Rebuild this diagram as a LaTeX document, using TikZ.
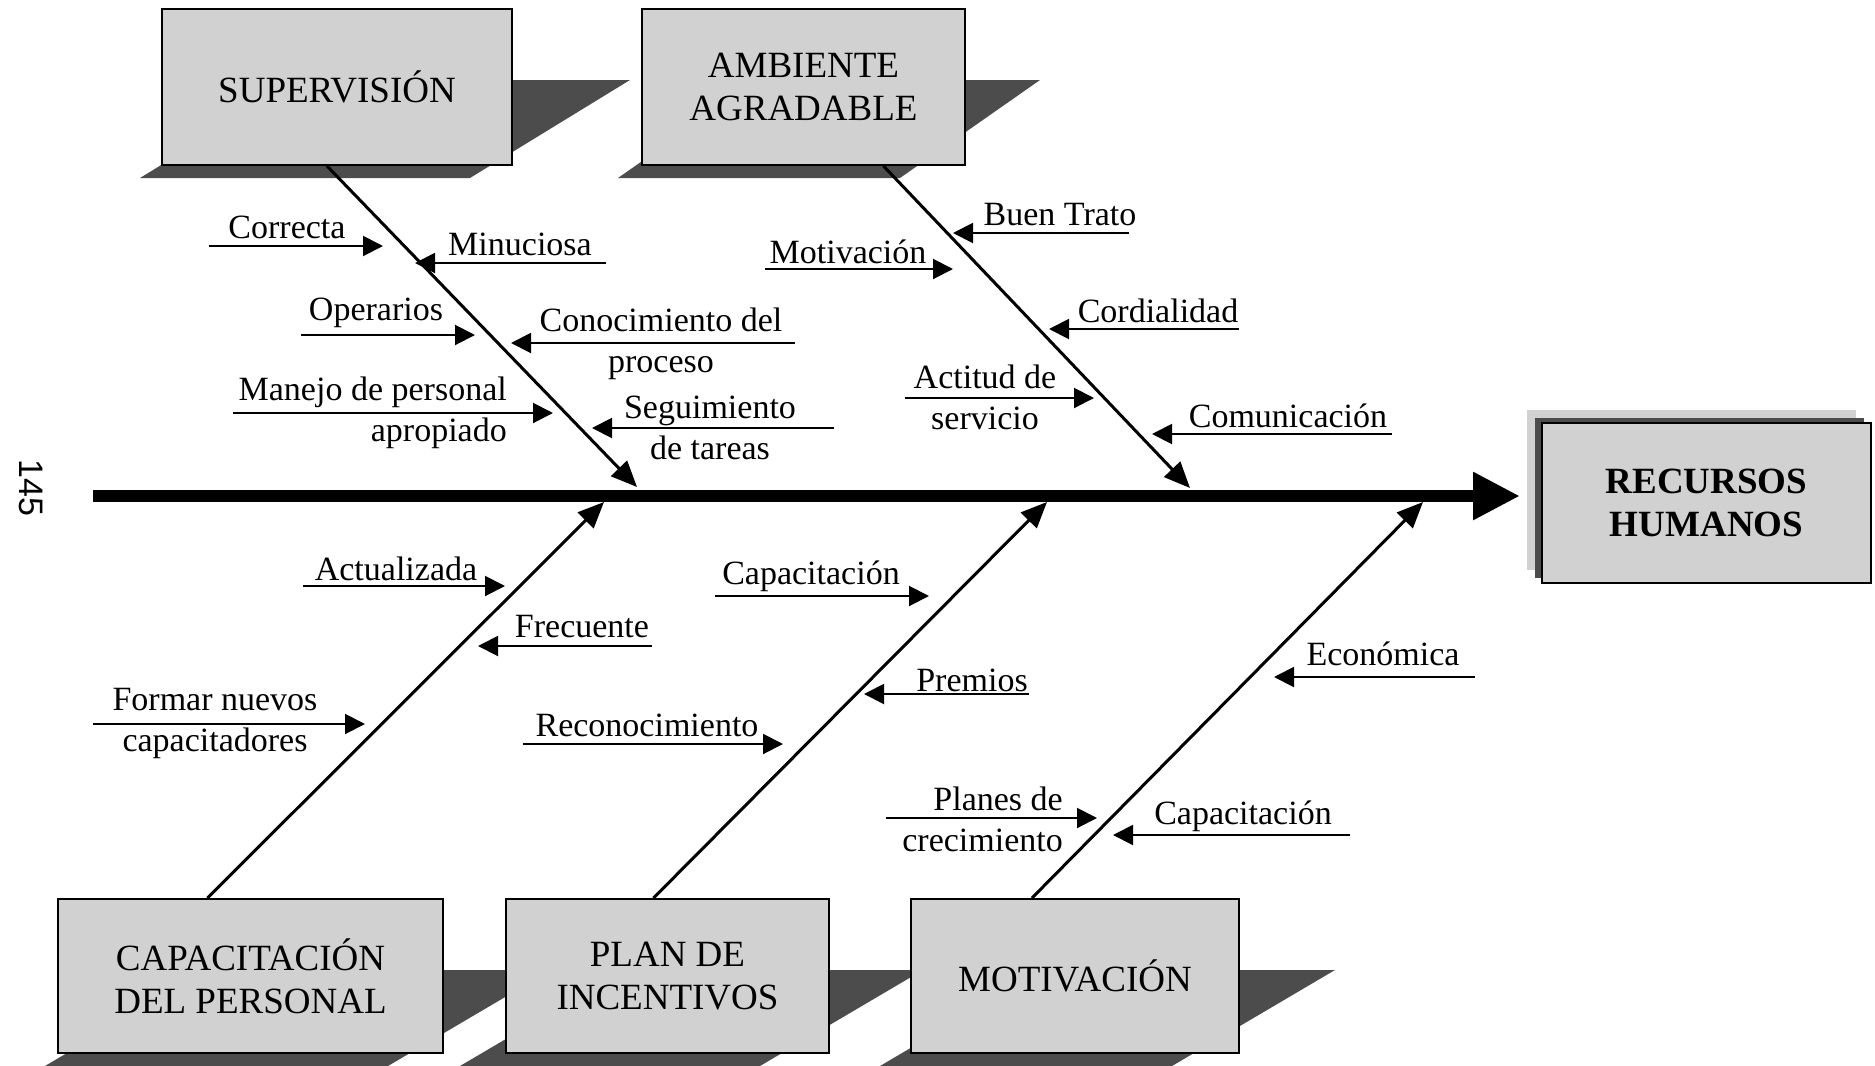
\documentclass[tikz,border=0pt]{standalone}
\usepackage{fontspec}
\setmainfont{Liberation Serif}
\newfontfamily\pagefont{Liberation Sans}
\usetikzlibrary{arrows.meta}

\definecolor{boxgray}{gray}{0.82}
\definecolor{shadegray}{gray}{0.30}

\tikzset{
  causebox/.style={draw=black, line width=2pt, fill=boxgray, minimum width=#1,
    minimum height=156pt, inner sep=0pt, align=center, font=\fontsize{37}{43}\selectfont},
  effectbox/.style={draw=black, line width=2.5pt, fill=boxgray, minimum width=329pt,
    minimum height=160pt, inner sep=0pt, align=center, font=\bfseries\fontsize{37}{43}\selectfont},
  shade/.style={fill=shadegray},
  spine/.style={line width=12pt, -{Triangle[length=47pt,width=45pt]}},
  bone/.style={line width=3pt, -{Triangle[length=26pt,width=22pt]}},
  sub/.style={line width=2pt, -{Triangle[length=20pt,width=20pt]}},
  lbl/.style={inner sep=0pt, align=center, font=\fontsize{34}{41}\selectfont},
  mid/.style={},
  rgt/.style={anchor=east, align=right}
}

\begin{document}
\begin{tikzpicture}[x=1pt, y=-1pt]
\useasboundingbox (0,0) rectangle (1875,1066);

% shadows behind the cause boxes
\fill[shade] (140,178) -- (470,178) -- (630,80) -- (300,80) -- cycle;
\fill[shade] (618,178) -- (900,178) -- (1040,80) -- (758,80) -- cycle;
\fill[shade] (45,1066) -- (388,1066) -- (551,970) -- (208,970) -- cycle;
\fill[shade] (460,1066) -- (760,1066) -- (923,970) -- (623,970) -- cycle;
\fill[shade] (880,1066) -- (1172,1066) -- (1335,970) -- (1043,970) -- cycle;

% cause boxes
\node[causebox=350pt] (sup) at (337,87) {SUPERVISIÓN};
\node[causebox=323pt] (amb) at (803.5,87) {AMBIENTE\\AGRADABLE};
\node[causebox=385pt, minimum height=154pt] (cap) at (250.5,976) {CAPACITACIÓN\\DEL PERSONAL};
\node[causebox=323pt, minimum height=154pt] (plan) at (667.5,976) {PLAN DE\\INCENTIVOS};
\node[causebox=328pt, minimum height=154pt] (mot) at (1075,976) {MOTIVACIÓN};

% effect box, stacked
\fill[boxgray] (1527,410) rectangle (1856,570);
\fill[shadegray] (1535,418) rectangle (1864,578);
\node[effectbox] (rh) at (1706.5,503) {RECURSOS\\HUMANOS};

% spine
\coordinate (tail) at (93,496);
\coordinate (head) at (1520,496);
\draw[spine] (tail) -- (head);

% bones
\coordinate (t1) at (637,487);
\coordinate (t2) at (1190,488);
\coordinate (t3) at (604,502);
\coordinate (t4) at (1047,502);
\coordinate (t5) at (1423,502);
\draw[bone] ([xshift=-10pt]sup.south) -- (t1);
\draw[bone] ([xshift=80pt]amb.south) -- (t2);
\draw[bone] ([xshift=-43pt]cap.north) -- (t3);
\draw[bone] ([xshift=-14pt]plan.north) -- (t4);
\draw[bone] ([xshift=-43pt]mot.north) -- (t5);

% sub-causes
\foreach \i/\st/\txt/\tx/\ty/\xa/\xb/\ly in {
  1/mid/Correcta/287/227/209/383/246,
  2/mid/Operarios/376/313/301/475/335,
  3/rgt/{Manejo de personal\\apropiado}/507/413/233/553/413,
  4/mid/Minuciosa/520/244/606/415/263,
  5/mid/{Conocimiento del\\proceso}/661/344/795/511/343,
  6/mid/{Seguimiento\\de tareas}/710/428/834/592/428,
  7/mid/Motivación/848/252/765/953/269,
  8/mid/{Actitud de\\servicio}/985/397/905/1094/398,
  9/mid/Buen Trato/1060/215/1129/953/233,
  10/mid/Cordialidad/1158/311/1239/1049/329,
  11/mid/Comunicación/1288/416/1392/1152/434,
  12/mid/Actualizada/396/569/303/505/586,
  13/mid/{Formar nuevos\\capacitadores}/215/723/93/365/724,
  14/mid/Frecuente/582/627/652/478/646,
  15/mid/Capacitación/811/576/715/929/596,
  16/mid/Reconocimiento/647/725/523/783/744,
  17/mid/Premios/972/680/1029/864/694,
  18/mid/Económica/1383/654/1475/1274/677,
  19/mid/Capacitación/1243/816/1350/1113/835,
  20/rgt/{Planes de\\crecimiento}/1063/819/886/1097/818} {
  \node[lbl, \st] (lbl\i) at (\tx,\ty) {\txt};
  \coordinate (from\i) at (\xa,\ly);
  \coordinate (to\i) at (\xb,\ly);
  \draw[sub] (from\i) -- (to\i);
}

% page number
\node[rotate=-90, inner sep=0pt, font=\pagefont\fontsize{34}{34}\selectfont] (pg) at (31,488) {145};
\end{tikzpicture}
\end{document}
